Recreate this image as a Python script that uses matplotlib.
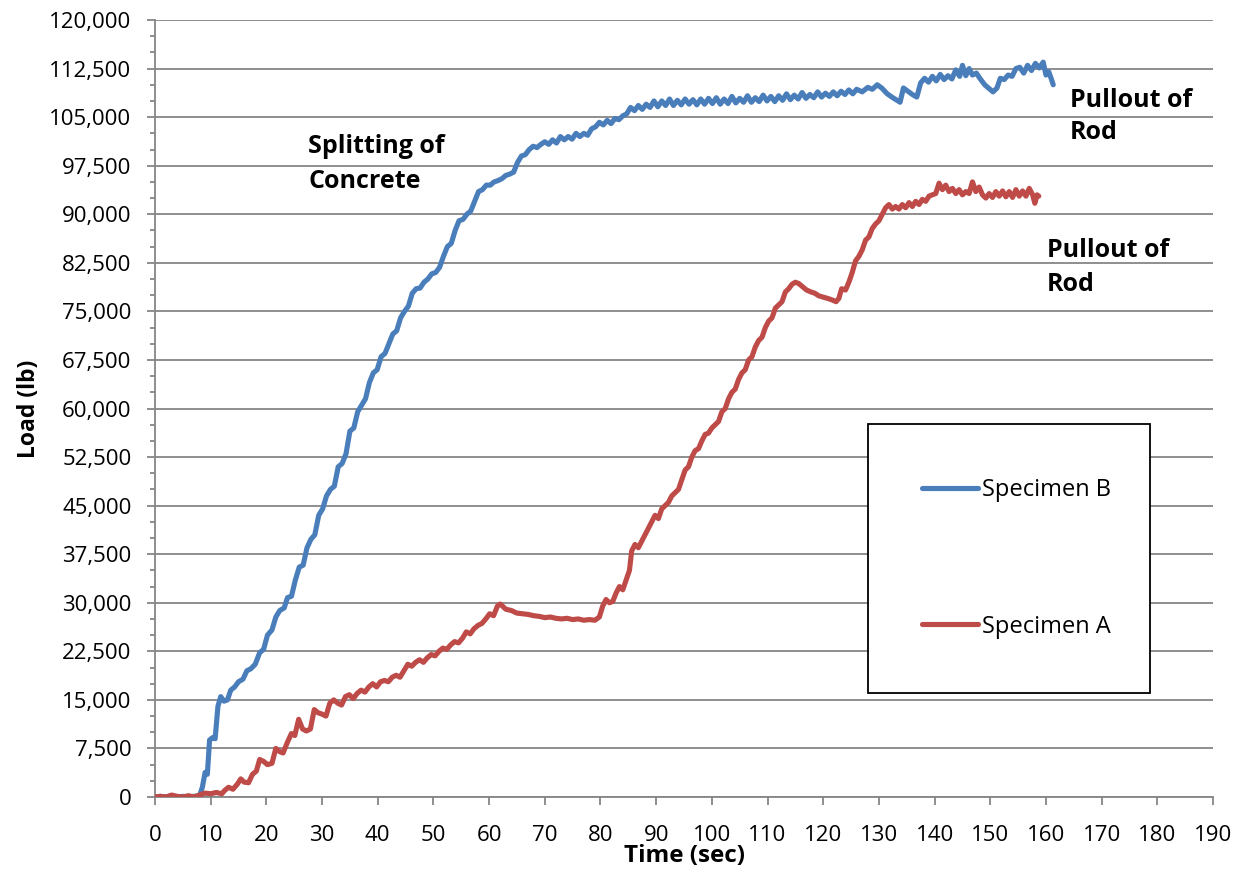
import numpy as np
import matplotlib
matplotlib.use('Agg')
import matplotlib.pyplot as plt
from matplotlib.ticker import MultipleLocator, FuncFormatter

plt.rcParams['font.family'] = ['Open Sans', 'DejaVu Sans']

# Specimen B (time s, load lb)
specimen_b = [
    (0, 0), (1, 100), (2, 0), (3, 200), (4, 0), (5, 100), (6, 0), (7, 100), (8, 200),
    (8.5, 1500), (9, 3800), (9.4, 3500), (9.8, 8800), (10.4, 9200), (10.8, 9000),
    (11.3, 14000), (11.8, 15500), (12.4, 14800), (13, 15000), (13.6, 16500), (14.3, 17000),
    (15, 17800), (15.8, 18200), (16.5, 19500), (17.2, 19800), (18, 20500), (18.8, 22300),
    (19.5, 22800), (20.2, 25000), (21, 25800), (21.7, 27800), (22.4, 28800), (23.2, 29200),
    (23.8, 30800), (24.5, 31000), (25.2, 33500), (25.9, 35500), (26.6, 35800), (27.3, 38500),
    (28, 39800), (28.7, 40500), (29.4, 43500), (30.1, 44500), (30.8, 46500), (31.5, 47500),
    (32.2, 48000), (32.9, 51000), (33.6, 51500), (34.3, 53000), (35, 56500), (35.7, 57000),
    (36.4, 59500), (37.1, 60500), (37.8, 61500), (38.5, 64000), (39.2, 65500), (39.9, 66000),
    (40.6, 68000), (41.3, 68500), (42, 70000), (42.7, 71500), (43.4, 72000), (44.1, 74000),
    (44.8, 75000), (45.5, 75800), (46.2, 77800), (46.9, 78500), (47.6, 78600), (48.3, 79500),
    (49, 80000), (49.7, 80800), (50.4, 81000), (51.1, 81800), (51.8, 83500), (52.5, 85000),
    (53.2, 85500), (53.9, 87500), (54.6, 89000), (55.3, 89200), (56, 90000), (56.7, 90500),
    (57.4, 92000), (58.1, 93500), (58.8, 93800), (59.5, 94500), (60.2, 94500), (60.9, 95000),
    (61.6, 95200), (62.3, 95500), (63, 96000), (63.7, 96200), (64.4, 96500), (65.1, 98000),
    (65.8, 99000), (66.5, 99200), (67.2, 100000), (67.9, 100500), (68.6, 100300), (69.3, 100800),
    (70, 101200), (70.7, 100800), (71.4, 101500), (72.1, 101000), (72.8, 102000), (73.5, 101500),
    (74.2, 102000), (74.9, 101600), (75.6, 102500), (76.3, 102000), (77, 102500), (77.7, 102200),
    (78.4, 103200), (79.1, 103500), (79.8, 104200), (80.5, 103800), (81.2, 104500), (81.9, 104000),
    (82.6, 104800), (83.3, 104600), (84, 105200), (84.7, 105500), (85.4, 106500), (86.1, 106000),
    (86.8, 106800), (87.5, 106200), (88.2, 107000), (88.9, 106500), (89.6, 107500), (90.3, 106600),
    (91, 107500), (91.7, 106800), (92.4, 107800), (93.1, 106800), (93.8, 107600), (94.5, 106900),
    (95.2, 107800), (95.9, 107000), (96.6, 107700), (97.3, 106900), (98, 107800), (98.7, 107000),
    (99.4, 107900), (100.1, 107100), (100.8, 108000), (101.5, 107000), (102.2, 107800),
    (102.9, 107100), (103.6, 108200), (104.3, 107200), (105, 107900), (105.7, 107300),
    (106.4, 108300), (107.1, 107300), (107.8, 108000), (108.5, 107400), (109.2, 108400),
    (109.9, 107500), (110.6, 108200), (111.3, 107400), (112, 108300), (112.7, 107600),
    (113.4, 108600), (114.1, 107700), (114.8, 108400), (115.5, 107800), (116.2, 108800),
    (116.9, 107900), (117.6, 108500), (118.3, 108000), (119, 108900), (119.7, 108100),
    (120.4, 108700), (121.1, 108200), (121.8, 108900), (122.5, 108300), (123.2, 109000),
    (123.9, 108500), (124.6, 109200), (125.3, 108600), (126, 109300), (127, 108900),
    (128, 109600), (128.8, 109300), (129.7, 110000), (130.5, 109500), (131.5, 108600),
    (132.5, 108000), (133.8, 107300), (134.4, 109500), (135.2, 109000), (136, 108500),
    (136.8, 108100), (137.5, 110300), (138.2, 111000), (138.9, 110400), (139.6, 111300),
    (140.3, 110600), (141, 111600), (141.7, 110800), (142.4, 111400), (143.1, 110900),
    (143.8, 112300), (144.5, 111300), (145, 113000), (145.6, 111400), (146.2, 112500),
    (146.8, 111500), (147.5, 111800), (148.2, 110900), (149, 110000), (149.8, 109400),
    (150.5, 108900), (151.2, 109500), (151.8, 111000), (152.5, 110800), (153.2, 111500),
    (153.9, 111300), (154.6, 112500), (155.3, 112700), (156, 111800), (156.7, 113000),
    (157.4, 112200), (158.1, 113300), (158.8, 112600), (159.5, 113500), (160, 111500),
    (160.5, 112000), (161, 110800), (161.3, 110000),
]

# Specimen A (time s, load lb)
specimen_a = [
    (0, 0), (1, 100), (2, 0), (3, 300), (4, 100), (5, 0), (6, 200), (7, 0), (8, 300),
    (9, 600), (10, 500), (11, 700), (12, 500), (12.5, 1000), (13.2, 1500), (14, 1200),
    (14.8, 2000), (15.4, 2800), (16, 2300), (16.8, 2200), (17.5, 3500), (18.2, 4000),
    (18.8, 5800), (19.5, 5500), (20.2, 5000), (21, 5200), (21.7, 7500), (22.4, 7000),
    (23, 6800), (23.8, 8500), (24.5, 9800), (25.1, 9500), (25.8, 12000), (26.5, 10500),
    (27.2, 10200), (27.9, 10500), (28.6, 13500), (29.3, 13000), (30, 12800), (30.7, 12500),
    (31.4, 14500), (32.1, 15000), (32.8, 14500), (33.5, 14200), (34.2, 15500), (34.9, 15800),
    (35.6, 15200), (36.3, 16000), (37, 16500), (37.7, 16200), (38.4, 17000), (39.1, 17500),
    (39.8, 17000), (40.5, 17800), (41.2, 18000), (41.9, 17800), (42.6, 18500), (43.3, 18800),
    (44, 18500), (44.7, 19500), (45.4, 20500), (46.1, 20200), (46.8, 20800), (47.5, 21200),
    (48.2, 20800), (48.9, 21500), (49.6, 22000), (50.3, 21800), (51, 22500), (51.7, 23000),
    (52.4, 22800), (53.1, 23500), (53.8, 24000), (54.5, 23800), (55.2, 24500), (55.9, 25500),
    (56.6, 25200), (57.3, 26000), (58, 26500), (58.7, 26800), (59.4, 27500), (60.1, 28300),
    (60.8, 28000), (61.5, 29500), (62, 29800), (63, 29000), (64, 28800), (65, 28400),
    (66, 28300), (67, 28200), (68, 28000), (69, 27900), (70, 27700), (71, 27800), (72, 27600),
    (73, 27500), (74, 27600), (75, 27400), (76, 27500), (77, 27300), (78, 27400), (79, 27300),
    (79.8, 27800), (80.4, 29500), (81, 30500), (81.6, 30000), (82.2, 30200), (82.8, 31500),
    (83.4, 32500), (84, 32000), (84.6, 33500), (85.2, 35000), (85.6, 38000), (86.2, 39000),
    (86.8, 38500), (87.4, 39500), (88, 40500), (88.6, 41500), (89.2, 42500), (89.8, 43500),
    (90.4, 43000), (91, 44500), (91.6, 45000), (92.2, 45500), (92.8, 46500), (93.4, 47000),
    (94, 47500), (94.6, 49000), (95.2, 50500), (95.8, 51000), (96.4, 52500), (97, 53500),
    (97.6, 53800), (98.2, 55000), (98.8, 56000), (99.4, 56200), (100, 57000), (100.6, 57500),
    (101.2, 58000), (101.8, 59500), (102.4, 60000), (103, 61500), (103.6, 62500), (104.2, 63000),
    (104.8, 64500), (105.4, 65500), (106, 66000), (106.6, 67500), (107.2, 68000), (107.8, 69500),
    (108.4, 70500), (109, 71000), (109.6, 72500), (110.2, 73500), (110.8, 74000), (111.4, 75500),
    (112, 76000), (112.6, 76500), (113.2, 78000), (113.8, 78500), (114.4, 79200), (115, 79500),
    (115.6, 79300), (116.3, 78800), (117, 78300), (117.8, 78000), (118.5, 77800), (119.2, 77400),
    (120, 77200), (120.8, 77000), (121.5, 76800), (122.3, 76500), (122.8, 77000), (123.3, 78500),
    (124, 78300), (124.6, 79500), (125.2, 81000), (125.8, 82800), (126.4, 83500), (127, 84500),
    (127.6, 86000), (128.2, 86500), (128.8, 87800), (129.4, 88500), (130, 89000), (130.6, 90000),
    (131.2, 91000), (131.8, 91500), (132.4, 90800), (133, 91200), (133.6, 90800), (134.2, 91500),
    (134.8, 91000), (135.4, 91800), (136, 91200), (136.6, 92000), (137.2, 91500), (137.8, 92300),
    (138.4, 92000), (139, 92800), (139.6, 93000), (140.2, 93200), (140.8, 94800), (141.4, 93800),
    (142, 94500), (142.6, 93500), (143.2, 94000), (143.8, 93200), (144.4, 93800), (145, 93000),
    (145.6, 93500), (146.2, 93200), (146.8, 95000), (147.4, 93500), (148, 94200), (148.6, 93000),
    (149.2, 92500), (149.8, 93200), (150.4, 92600), (151, 93500), (151.6, 92800), (152.2, 93600),
    (152.8, 92700), (153.4, 93500), (154, 92600), (154.6, 93800), (155.2, 92800), (155.8, 93600),
    (156.4, 92800), (157, 94000), (157.6, 93000), (158, 91700), (158.4, 93000), (158.7, 92800),
]

b = np.array(specimen_b)
a = np.array(specimen_a)

blue = '#4A7EBB'
red = '#BE4B48'
grey = '#868686'

fig = plt.figure(figsize=(12.43, 8.74), dpi=100)
ax = fig.add_axes([0.1247, 0.0881, 0.8512, 0.889])

ax.plot(b[:, 0], b[:, 1], color=blue, lw=3.7, label='Specimen B',
        solid_capstyle='round', solid_joinstyle='round', zorder=3)
ax.plot(a[:, 0], a[:, 1], color=red, lw=3.7, label='Specimen A',
        solid_capstyle='round', solid_joinstyle='round', zorder=3)

ax.set_xlim(0, 190)
ax.set_ylim(0, 120000)
ax.xaxis.set_major_locator(MultipleLocator(10))
ax.yaxis.set_major_locator(MultipleLocator(7500))
ax.yaxis.set_minor_locator(MultipleLocator(2500))
ax.yaxis.set_major_formatter(FuncFormatter(lambda v, p: '{:,.0f}'.format(v)))

ax.grid(True, axis='y', which='major', color=grey, lw=1.3, zorder=0)
for s in ['top', 'right']:
    ax.spines[s].set_visible(False)
for s in ['left', 'bottom']:
    ax.spines[s].set_color(grey)
    ax.spines[s].set_linewidth(1.3)

ax.tick_params(axis='both', which='major', direction='out', length=6, width=1.3,
               color=grey, labelsize=16, labelcolor='black')
ax.tick_params(axis='y', which='minor', direction='out', length=3.5, width=1.3, color=grey)
ax.tick_params(axis='y', pad=11)
ax.tick_params(axis='x', pad=14)

ax.set_xlabel('Time (sec)', fontsize=17.5, fontweight='bold', labelpad=-1)
ax.set_ylabel('Load (lb)', fontsize=16.5, fontweight='bold', labelpad=6)

ax.text(27.5, 97800, 'Splitting of\nConcrete', fontsize=18, fontweight='bold',
        va='center', ha='left', linespacing=1.5)
ax.text(164.3, 105100, 'Pullout of\nRod', fontsize=18, fontweight='bold',
        va='center', ha='left', linespacing=1.4)
ax.text(160.2, 81800, 'Pullout of\nRod', fontsize=18, fontweight='bold',
        va='center', ha='left', linespacing=1.5)

leg = ax.legend(loc='lower left', bbox_to_anchor=(0.674, 0.134, 0.266, 0.342),
                mode='expand', borderaxespad=0, fontsize=17, handlelength=2.35,
                handletextpad=0.17, labelspacing=4.75, borderpad=2.3,
                fancybox=False, framealpha=1)
leg.get_frame().set_edgecolor('black')
leg.get_frame().set_linewidth(1.3)

plt.savefig('out.png', dpi=100)
